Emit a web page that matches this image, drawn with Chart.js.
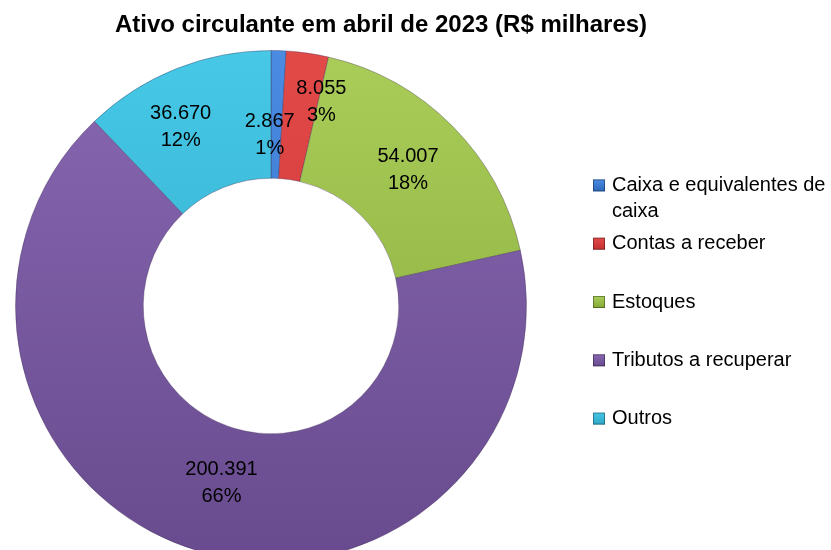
<!DOCTYPE html>
<html>
<head>
<meta charset="utf-8">
<script src="https://cdn.jsdelivr.net/npm/chart.js@4"></script>
<style>
  html, body { margin: 0; padding: 0; background: #ffffff; overflow: hidden; }
  #wrap { width: 831px; height: 550px; position: relative; overflow: hidden; }
</style>
</head>
<body>
<div id="wrap"><canvas id="c" width="831" height="580"></canvas></div>
<script>
// ---- data ----
const chartTitle = 'Ativo circulante em abril de 2023 (R$ milhares)';
const categories = ['Caixa e equivalentes de caixa', 'Contas a receber', 'Estoques', 'Tributos a recuperar', 'Outros'];
const values = [2867, 8055, 54007, 200391, 36670];

// ---- styles ----
const topColors = ['#4b8ce2', '#e24a48', '#aacd5a', '#8768b2', '#46c8e6'];
const bottomColors = ['#2c68bc', '#c43030', '#84a836', '#684a8e', '#2ea6c6'];
const baseColors = ['#3d7bd2', '#d83d3c', '#9bbf4a', '#7a5ba2', '#3cb9d9'];
const labelNudges = [[-7, 21], [23, -14], [1, -1], [6, -6], [-19, -1]];
const FONT = '"Liberation Sans", Arial, sans-serif';

function fmtThousands(v) {
  return String(v).replace(/\B(?=(\d{3})+(?!\d))/g, '.');
}

function sliceFill(ctx) {
  const chart = ctx.chart;
  const i = ctx.dataIndex;
  const area = chart.chartArea;
  if (!area) return baseColors[i];
  const g = chart.ctx.createLinearGradient(0, area.top, 0, area.bottom);
  g.addColorStop(0, topColors[i]);
  g.addColorStop(1, bottomColors[i]);
  return g;
}

const titlePlugin = {
  id: 'customTitle',
  afterDraw(chart) {
    const ctx = chart.ctx;
    ctx.save();
    ctx.font = 'bold 24px ' + FONT;
    ctx.fillStyle = '#000';
    ctx.textAlign = 'center';
    ctx.textBaseline = 'middle';
    ctx.fillText(chartTitle, 381, 25);
    ctx.restore();
  }
};

const labelPlugin = {
  id: 'sliceLabels',
  afterDatasetsDraw(chart) {
    const ctx = chart.ctx;
    const meta = chart.getDatasetMeta(0);
    const data = chart.data.datasets[0].data;
    const total = data.reduce((a, b) => a + b, 0);
    ctx.save();
    ctx.font = '20px ' + FONT;
    ctx.fillStyle = '#000';
    ctx.textAlign = 'center';
    ctx.textBaseline = 'middle';
    meta.data.forEach((arc, i) => {
      const p = arc.getProps(['x', 'y', 'startAngle', 'endAngle', 'innerRadius', 'outerRadius'], true);
      const mid = (p.startAngle + p.endAngle) / 2;
      const r = (p.innerRadius + p.outerRadius) / 2;
      const x = p.x + Math.cos(mid) * r + labelNudges[i][0];
      const y = p.y + Math.sin(mid) * r + labelNudges[i][1];
      ctx.fillText(fmtThousands(data[i]), x, y - 13.5);
      ctx.fillText(Math.round(data[i] / total * 100) + '%', x, y + 13.5);
    });
    ctx.restore();
  }
};

const legendPlugin = {
  id: 'sideLegend',
  afterDraw(chart) {
    const ctx = chart.ctx;
    const meta = chart.getDatasetMeta(0);
    const cy = meta.data[0].y;
    const markerX = 593, textX = 612, spacing = 58.3, box = 12;
    const maxW = chart.width - textX - 1;
    const n = chart.data.labels.length;
    const y0 = cy - spacing * (n - 1) / 2 - 4;
    ctx.save();
    ctx.font = '20px ' + FONT;
    ctx.textBaseline = 'middle';
    ctx.textAlign = 'left';
    chart.data.labels.forEach((lab, i) => {
      const y = y0 + i * spacing;
      const g = ctx.createLinearGradient(0, y - box / 2, 0, y + box / 2);
      g.addColorStop(0, topColors[i]);
      g.addColorStop(1, bottomColors[i]);
      ctx.fillStyle = g;
      ctx.fillRect(markerX, y - box / 2, box, box);
      ctx.strokeStyle = 'rgba(0,0,0,0.35)';
      ctx.lineWidth = 1;
      ctx.strokeRect(markerX + 0.5, y - box / 2 + 0.5, box - 1, box - 1);
      const words = lab.split(' ');
      const lines = [];
      let cur = '';
      words.forEach(w => {
        const t = cur ? cur + ' ' + w : w;
        if (ctx.measureText(t).width > maxW && cur) { lines.push(cur); cur = w; }
        else cur = t;
      });
      if (cur) lines.push(cur);
      ctx.fillStyle = '#000';
      lines.forEach((ln, k) => ctx.fillText(ln, textX, y + k * 26));
    });
    ctx.restore();
  }
};

new Chart(document.getElementById('c'), {
  type: 'doughnut',
  data: {
    labels: categories,
    datasets: [{
      data: values,
      backgroundColor: sliceFill,
      borderColor: 'rgba(60,40,80,0.35)',
      borderWidth: 1,
      hoverOffset: 0,
      hoverBorderWidth: 1
    }]
  },
  options: {
    responsive: false,
    animation: false,
    cutout: '50%',
    layout: { padding: { left: 15, right: 304, top: 50, bottom: 18 } },
    plugins: {
      legend: { display: false },
      title: { display: false },
      tooltip: { enabled: false }
    },
    events: []
  },
  plugins: [titlePlugin, labelPlugin, legendPlugin]
});
</script>
</body>
</html>
